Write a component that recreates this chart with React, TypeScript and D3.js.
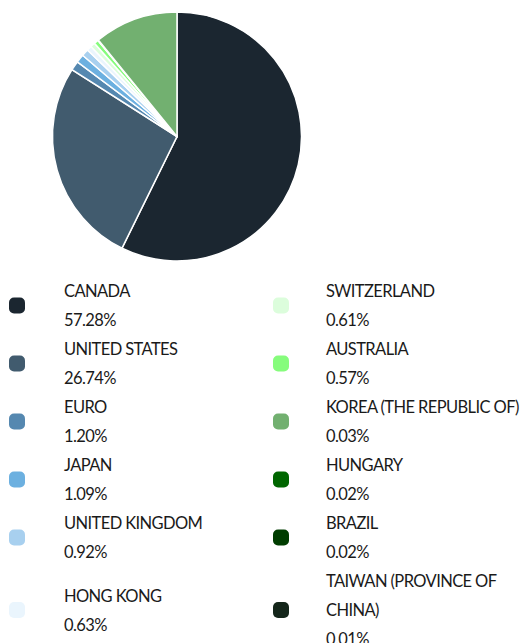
import React from "react";
import * as d3 from "d3";

const categories = [
  "CANADA",
  "UNITED STATES",
  "EURO",
  "JAPAN",
  "UNITED KINGDOM",
  "HONG KONG",
  "SWITZERLAND",
  "AUSTRALIA",
  "KOREA (THE REPUBLIC OF)",
  "HUNGARY",
  "BRAZIL",
  "TAIWAN (PROVINCE OF CHINA)",
];
const values = [57.28, 26.74, 1.2, 1.09, 0.92, 0.63, 0.61, 0.57, 0.03, 0.02, 0.02, 0.01];
const colors = [
  "#1b2630",
  "#415b6e",
  "#5588b0",
  "#6cb0e0",
  "#a8d0ef",
  "#eaf5fd",
  "#dcfddc",
  "#86fc7c",
  "#72b070",
  "#006600",
  "#003d00",
  "#14261a",
];
// remaining share drawn in the pie without a legend entry
const remainderValue = 10.88;
const remainderColor = "#72b070";

const FONT = "Lato, 'Noto Sans', sans-serif";
const FS = 16.5;
const LS = -0.6;

function measure(text: string): number {
  if (typeof document === "undefined") return text.length * 9;
  const c = document.createElement("canvas");
  const ctx = c.getContext("2d")!;
  ctx.font = `${FS}px Lato`;
  return ctx.measureText(text).width + LS * text.length;
}

function wrap(text: string, maxW: number): string[] {
  const words = text.split(" ");
  const lines: string[] = [];
  let cur = "";
  for (const w of words) {
    const t = cur ? cur + " " + w : w;
    if (measure(t) > maxW && cur) {
      lines.push(cur);
      cur = w;
    } else cur = t;
  }
  if (cur) lines.push(cur);
  return lines;
}

export default function App() {
  const W = 525;
  const H = 643;
  const cx = 177;
  const cy = 136.5;
  const r = 124.5;

  const pieData = [
    ...values.map((v, i) => ({ v, color: colors[i] })),
    { v: remainderValue, color: remainderColor },
  ];
  const arcs = d3
    .pie<{ v: number; color: string }>()
    .value((d) => d.v)
    .sort(null)(pieData);
  const arcGen = d3
    .arc<d3.PieArcDatum<{ v: number; color: string }>>()
    .innerRadius(0)
    .outerRadius(r);

  const half = Math.ceil(categories.length / 2);
  const colX = [9, 273];
  const textX = [64, 326];
  const lineH = 29;
  const items = categories.map((c, i) => ({
    lines: [...wrap(c, 205), `${values[i].toFixed(2)}%`],
    color: colors[i],
    col: i < half ? 0 : 1,
    row: i < half ? i : i - half,
  }));
  const rowLines: number[] = [];
  for (let rIdx = 0; rIdx < half; rIdx++) {
    rowLines.push(
      Math.max(...items.filter((it) => it.row === rIdx).map((it) => it.lines.length))
    );
  }
  const rowTop: number[] = [];
  let y = 286;
  for (let rIdx = 0; rIdx < half; rIdx++) {
    rowTop.push(y);
    y += rowLines[rIdx] * lineH;
  }

  return (
    <svg width={W} height={H} style={{ position: "absolute", left: 0, top: 0 }}>
      <g transform={`translate(${cx},${cy})`}>
        {arcs.map((a, i) => (
          <path
            key={i}
            d={arcGen(a) || ""}
            fill={a.data.color}
            stroke="#fff"
            strokeWidth={1.5}
          />
        ))}
      </g>
      {items.map((it, i) => {
        const top = rowTop[it.row];
        const offset = ((rowLines[it.row] - it.lines.length) * lineH) / 2;
        const first = top + offset + 11;
        const last = first + (it.lines.length - 1) * lineH;
        const dotCy = (first + last) / 2 - 6;
        return (
          <g key={i}>
            <rect
              x={colX[it.col]}
              y={dotCy - 8}
              width={16}
              height={16}
              rx={5}
              fill={it.color}
            />
            {it.lines.map((l, j) => (
              <text
                key={j}
                x={textX[it.col]}
                y={first + j * lineH}
                fontFamily={FONT}
                fontSize={FS}
                letterSpacing={LS}
                fill="#1a1a1a"
              >
                {l}
              </text>
            ))}
          </g>
        );
      })}
    </svg>
  );
}
